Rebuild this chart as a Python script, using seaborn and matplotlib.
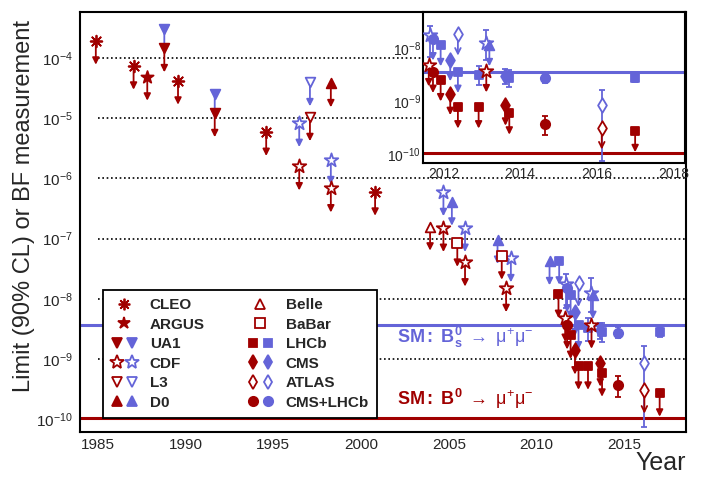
import numpy as np
import pandas as pd
import seaborn as sns
import matplotlib.pyplot as plt
from matplotlib.lines import Line2D
from matplotlib.legend_handler import HandlerTuple
from matplotlib.ticker import MultipleLocator, FixedLocator, NullFormatter, FormatStrFormatter

RED = '#a00000'
BLUE = '#6464d8'
nan = np.nan

# B_s -> mu mu : lo/hi = NaN means upper limit (arrow)
bs_exp = ['UA1', 'UA1', 'CDF', 'L3', 'CDF', 'CDF', 'D0', 'CDF', 'D0', 'CDF', 'D0', 'LHCb',
          'CDF', 'CMS+LHCb', 'LHCb', 'CMS', 'ATLAS', 'LHCb', 'LHCb', 'CDF', 'D0',
          'CMS', 'LHCb', 'CMS+LHCb', 'ATLAS', 'LHCb']
bs_year = [1988.8, 1991.67, 1996.48, 1997.09, 1998.28, 2004.69, 2005.17, 2005.92, 2007.77, 2008.53, 2010.73, 2011.28,
           2011.65, 2011.73, 2011.93, 2012.18, 2012.38, 2012.38, 2012.92, 2013.12, 2013.2,
           2013.62, 2013.72, 2014.65, 2016.13, 2017.0]
bs_val = [3.0e-4, 2.5e-5, 8.3e-6, 3.95e-5, 2.0e-6, 5.9e-7, 4.1e-7, 1.5e-7, 9.5e-8, 4.7e-8, 4.2e-8, 4.3e-8,
          1.78e-8, 1.48e-8, 1.15e-8, 6.0e-9, 1.83e-8, 3.6e-9, 3.2e-9, 1.24e-8, 1.15e-8,
          3.0e-9, 2.8e-9, 2.7e-9, 8.5e-10, 2.8e-9]
bs_lo = [nan] * 12 + [7e-9, nan, nan, nan, nan, nan, 2.0e-9, 6e-9, nan, 2.1e-9, 1.9e-9, 2.2e-9, 7.5e-11, 2.3e-9]
bs_hi = [nan] * 12 + [2.6e-8, nan, nan, nan, nan, nan, 4.7e-9, 2.2e-8, nan, 4.0e-9, 3.9e-9, 3.4e-9, 1.65e-9, 3.3e-9]

# B0 -> mu mu
b0_exp = ['CLEO', 'CLEO', 'ARGUS', 'UA1', 'CLEO', 'UA1', 'CLEO', 'CDF', 'L3', 'D0', 'CDF', 'CLEO',
          'Belle', 'CDF', 'BaBar', 'CDF', 'BaBar', 'CDF', 'LHCb', 'CDF', 'CMS+LHCb', 'LHCb',
          'CMS', 'LHCb', 'LHCb', 'CDF', 'CMS', 'LHCb', 'CMS+LHCb', 'ATLAS', 'LHCb']
b0_year = [1984.9, 1987.05, 1987.83, 1988.8, 1989.58, 1991.67, 1994.6, 1996.48, 1997.09, 1998.28, 1998.28, 2000.8,
           2003.93, 2004.69, 2005.48, 2005.92, 2008.01, 2008.26, 2011.24, 2011.62, 2011.73, 2011.93,
           2012.18, 2012.38, 2012.92, 2013.12, 2013.62, 2013.72, 2014.65, 2016.13, 2017.0]
b0_val = [1.94e-4, 7.45e-5, 4.9e-5, 1.45e-4, 4.2e-5, 1.21e-5, 5.9e-6, 1.58e-6, 1.04e-5, 3.8e-5, 6.8e-7, 6.0e-7,
          1.58e-7, 1.5e-7, 8.5e-8, 4.0e-8, 5.2e-8, 1.5e-8, 1.2e-8, 4.8e-9, 3.6e-9, 2.5e-9,
          1.38e-9, 7.7e-10, 7.7e-10, 3.7e-9, 8.7e-10, 5.9e-10, 3.7e-10, 3.1e-10, 2.75e-10]
b0_lo = [nan] * 28 + [2.3e-10, nan, nan]
b0_hi = [nan] * 28 + [5.2e-10, nan, nan]

sm_bs = 3.6e-9
sm_b0 = 1.05e-10

main_decades = [1e-10, 1e-9, 1e-8, 1e-7, 1e-6, 1e-5, 1e-4]
inset_decades = [1e-10, 1e-9, 1e-8]

legend_order = ['CLEO', 'ARGUS', 'UA1', 'CDF', 'L3', 'D0',
                'Belle', 'BaBar', 'LHCb', 'CMS', 'ATLAS', 'CMS+LHCb']

# marker, fill, scatter size
marker_style = {
    'CLEO': ((8, 2, 0), 'line', 70),
    'ARGUS': ('*', 'filled', 85),
    'UA1': ('v', 'filled', 48),
    'CDF': ('*', 'open', 105),
    'L3': ('v', 'open', 48),
    'D0': ('^', 'filled', 48),
    'Belle': ('^', 'open', 48),
    'BaBar': ('s', 'open', 45),
    'LHCb': ('s', 'filled', 38),
    'CMS': ('d', 'filled', 55),
    'ATLAS': ('d', 'open', 55),
    'CMS+LHCb': ('o', 'filled', 45),
}
arrow_factor = 10 ** -0.4

sns.set_style('white')
plt.rcParams['font.family'] = ['Liberation Sans', 'DejaVu Sans']
plt.rcParams['mathtext.fontset'] = 'custom'
plt.rcParams['mathtext.rm'] = 'Liberation Sans'
plt.rcParams['mathtext.it'] = 'Liberation Sans:italic'
plt.rcParams['mathtext.bf'] = 'Liberation Sans:bold'
plt.rcParams['axes.linewidth'] = 1.5
plt.rcParams['axes.edgecolor'] = 'black'

bs = pd.DataFrame(dict(exp=bs_exp, year=bs_year, val=bs_val, lo=bs_lo, hi=bs_hi))
b0 = pd.DataFrame(dict(exp=b0_exp, year=b0_year, val=b0_val, lo=b0_lo, hi=b0_hi))


def minor_locs(decades):
    return [m * d for d in decades[:-1] for m in range(2, 10)] + [m * decades[0] / 10 for m in range(2, 10)] \
        + [m * decades[-1] for m in range(2, 10)]


def draw_points(a, df, color, z):
    for exp, sub in df.groupby('exp', sort=False):
        marker, fill, size = marker_style[exp]
        head = '->' if exp == 'ATLAS' else '-|>'
        lim = sub[sub['lo'].isna()]
        for x, y in zip(lim['year'], lim['val']):
            a.annotate('', xy=(x, y * arrow_factor), xytext=(x, y),
                       arrowprops=dict(arrowstyle=head + ',head_length=0.4,head_width=0.2',
                                       color=color, lw=1.3, shrinkA=0, shrinkB=0),
                       zorder=z)
        meas = sub[sub['lo'].notna()]
        if len(meas):
            a.errorbar(meas['year'], meas['val'],
                       yerr=[meas['val'] - meas['lo'], meas['hi'] - meas['val']],
                       fmt='none', ecolor=color, elinewidth=1.3, capsize=2.5, capthick=1.3, zorder=z)
        kw = dict(marker=marker, s=size, color=color, linewidth=1.3, legend=False, zorder=z + 1, ax=a)
        if fill == 'open':
            kw.update(facecolor='white', edgecolor=color)
        elif fill == 'filled':
            kw.update(edgecolor=color)
        sns.scatterplot(data=sub, x='year', y='val', **kw)


fig = plt.figure(figsize=(7.03, 4.82), dpi=100)
ax = fig.add_axes([80 / 703, 50 / 482, 606 / 703, 420 / 482])
axin = fig.add_axes([423 / 703, (482 - 163) / 482, 262 / 703, 151 / 482])

for a, dec in ((ax, main_decades), (axin, inset_decades)):
    a.set_yscale('log')
    a.axhline(sm_bs, color=BLUE, lw=2.2, zorder=1.5)
    a.axhline(sm_b0, color=RED, lw=2.2, zorder=1.5)
    draw_points(a, bs, BLUE, 2)
    draw_points(a, b0, RED, 4)
    a.set_xlabel('')
    a.set_ylabel('')
    a.yaxis.set_major_locator(FixedLocator(dec))
    a.yaxis.set_minor_locator(FixedLocator(minor_locs(dec)))
    a.yaxis.set_minor_formatter(NullFormatter())
    a.xaxis.set_major_formatter(FormatStrFormatter('%d'))
    a.tick_params(which='both', direction='in', top=False, right=False, width=1.1)

# dotted decade lines in the main pad
ax.hlines(main_decades[1:], 1985, 2018.5, colors='black',
          linestyles=(0, (1, 1.6)), lw=1.2, zorder=1)

ax.set_xlim(1984, 2018.5)
ax.set_ylim(6.1e-11, 5.8e-4)
ax.xaxis.set_major_locator(MultipleLocator(5))
ax.xaxis.set_minor_locator(MultipleLocator(1))
ax.tick_params(axis='x', which='major', length=9, labelsize=11, pad=4)
ax.tick_params(axis='x', which='minor', length=4.5)
ax.tick_params(axis='y', which='major', length=13, labelsize=11, pad=5)
ax.tick_params(axis='y', which='minor', length=6)

axin.set_xlim(2011.47, 2018.3)
axin.set_ylim(6.86e-11, 4.84e-8)
axin.xaxis.set_major_locator(MultipleLocator(2))
axin.xaxis.set_minor_locator(MultipleLocator(0.5))
axin.tick_params(axis='x', which='major', length=6, labelsize=10, pad=3)
axin.tick_params(axis='x', which='minor', length=3)
axin.tick_params(axis='y', which='major', length=7, labelsize=10, pad=1.5)
axin.tick_params(axis='y', which='minor', length=3.5)
axin.set_zorder(5)
axin.set_facecolor('white')

ax.set_ylabel('Limit (90% CL) or BF measurement', fontsize=17, loc='top')
ax.yaxis.set_label_coords(-0.075, 0.98)
ax.set_xlabel('Year', fontsize=18, loc='right')
ax.xaxis.set_label_coords(1.0, -0.045)

ax.text(2002.05, 1.85e-9, r'$\mathbf{SM{:}\ B_{s}^{0}}\ \rightarrow\ \mathrm{\mu^{+}\mu^{-}}$',
        color=BLUE, fontsize=13, va='baseline', zorder=6)
ax.text(2002.05, 1.72e-10, r'$\mathbf{SM{:}\ B^{0}}\ \rightarrow\ \mathrm{\mu^{+}\mu^{-}}$',
        color=RED, fontsize=13, va='baseline', zorder=6)

# legend: red (B0) and blue (Bs) marker pairs
handles = []
for name in legend_order:
    marker, fill, size = marker_style[name]
    cols = [c for c, lst in ((RED, b0_exp), (BLUE, bs_exp)) if name in lst]
    hs = []
    for c in cols:
        mfc = 'white' if fill == 'open' else c
        hs.append(Line2D([], [], ls='none', marker=marker, ms=np.sqrt(size),
                         color=c, mfc=mfc, mec=c, mew=1.3))
    handles.append(tuple(hs))

leg = ax.legend(handles, legend_order, ncol=2, loc='lower left', bbox_to_anchor=(0.038, 0.033),
                handler_map={tuple: HandlerTuple(ndivide=None, pad=0.3)},
                prop=dict(weight='bold', size=11), frameon=True, fancybox=False,
                edgecolor='black', framealpha=1, borderpad=0.55, labelspacing=0.36,
                handlelength=1.7, handletextpad=0.8, columnspacing=2.8, borderaxespad=0)
leg.get_frame().set_linewidth(1.3)
leg.set_zorder(10)

fig.savefig('out.png', dpi=100)
